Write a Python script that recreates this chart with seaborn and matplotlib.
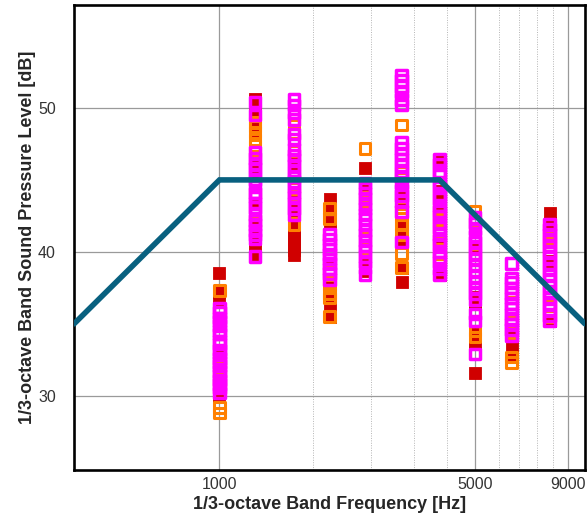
import numpy as np
import pandas as pd
import matplotlib
matplotlib.use("Agg")
import matplotlib.pyplot as plt
from matplotlib.ticker import FixedLocator, NullFormatter, FixedFormatter
import seaborn as sns

# ---------------- data ----------------
bands = [1000, 1250, 1600, 2000, 2500, 3150, 4000, 5000, 6300, 8000]

red_levels = [
    [38.5, 37.2, 36.6, 33.2, 30.0],
    [50.6, 50.3, 49.5, 48.6, 48.1, 46.6, 45.6, 43.4, 41.7, 40.9, 40.3, 39.7],
    [46.1, 43.5, 42.4, 41.7, 41.3, 40.9, 40.5, 40.1, 39.8],
    [43.7, 43.0, 42.1, 39.2, 37.9, 37.0, 36.3, 35.5],
    [45.8, 44.6, 39.1, 38.7],
    [44.5, 43.7, 42.1, 41.5, 40.7, 38.9, 37.9],
    [46.4, 44.2, 43.4, 40.8, 38.8, 38.4],
    [40.3, 36.9, 36.4, 34.3, 33.6, 31.6],
    [34.2, 33.4, 32.7],
    [42.7, 42.0, 39.4, 35.2],
]

orange_levels = [
    [37.3, 35.8, 32.3, 31.9, 31.4, 31.0, 30.6, 29.2, 28.8],
    [49.0, 48.7, 48.3, 47.8, 47.4, 47.0, 44.1, 42.1],
    [49.5, 48.9, 48.3, 47.0, 45.2, 44.4, 43.9, 42.7, 41.9],
    [43.0, 42.3, 41.2, 38.6, 37.7, 37.1, 36.8, 35.5],
    [47.2, 43.8, 43.5, 41.0, 40.3],
    [48.8, 45.5, 45.1, 43.1, 42.6, 41.9, 41.2, 39.9, 38.9],
    [42.9, 42.4, 41.5, 40.9, 39.9],
    [42.8, 42.1, 39.8, 34.5, 34.1],
    [37.2, 35.2, 34.4, 32.7, 32.3],
    [41.0, 40.7, 40.0, 36.3, 35.5],
]

magenta_levels = [
    [36.1, 35.8, 35.4, 35.2, 34.9, 34.5, 34.3, 33.8, 33.6, 33.2, 33.0, 32.6,
     32.3, 32.1, 31.7, 31.4, 31.1, 30.8, 30.6, 30.2],
    [50.4, 49.5, 46.9, 46.5, 46.1, 45.8, 45.3, 45.0, 44.6, 44.1, 43.8, 43.4,
     43.1, 42.6, 42.2, 41.9, 41.5, 41.2, 40.9, 39.7],
    [50.6, 50.2, 49.7, 49.2, 48.2, 47.8, 47.1, 46.7, 46.4, 46.0, 45.6, 45.2,
     44.9, 44.5, 44.1, 43.8, 43.4, 43.0, 42.6],
    [41.2, 40.9, 40.5, 40.2, 39.8, 39.5, 39.2, 38.8, 38.5, 38.1],
    [44.8, 44.4, 44.1, 43.7, 43.3, 43.0, 42.6, 42.3, 41.9, 41.5, 41.2, 40.8,
     40.4, 40.1, 39.7, 39.3, 38.9, 38.4],
    [52.3, 51.9, 51.5, 51.1, 50.6, 50.2, 47.6, 47.2, 46.8, 46.4, 46.0, 45.6,
     45.2, 44.8, 44.3, 43.9, 43.5, 42.8, 40.7],
    [46.4, 46.1, 45.6, 45.3, 44.8, 44.5, 44.0, 43.7, 43.2, 42.8, 42.5, 42.0,
     41.7, 41.2, 40.8, 40.5, 40.0, 39.6, 39.3, 38.8, 38.4],
    [42.4, 42.0, 41.6, 41.1, 40.7, 40.3, 39.9, 39.5, 39.1, 38.7, 38.3, 37.9,
     37.5, 37.1, 36.7, 35.7, 35.2, 32.9],
    [39.2, 38.2, 37.9, 37.5, 37.1, 36.8, 36.4, 36.1, 35.7, 35.3, 35.0, 34.6, 34.2],
    [41.9, 41.6, 41.2, 40.8, 40.4, 40.0, 39.6, 39.2, 38.8, 38.4, 38.0, 37.6,
     37.2, 36.8, 36.4, 36.0, 35.6, 35.2],
]

limit_freq = [400, 1000, 4000, 10000]
limit_level = [35, 45, 45, 35]

x_major_ticks = [1000, 5000, 9000]
x_minor_ticks = [1800, 2600, 3400, 4200, 5800, 6600, 7400, 8200]
y_major_ticks = [30, 40, 50]
y_minor_ticks = [26, 28, 32, 34, 36, 38, 42, 44, 46, 48, 52, 54, 56]


def to_frame(levels):
    rows = []
    for f, vals in zip(bands, levels):
        for v in vals:
            rows.append((f, v))
    return pd.DataFrame(rows, columns=["freq", "level"])


df_red = to_frame(red_levels)
df_orange = to_frame(orange_levels)
df_magenta = to_frame(magenta_levels)
df_line = pd.DataFrame({"freq": limit_freq, "level": limit_level})

# ---------------- plot ----------------
sns.set_style("white")
plt.rcParams["font.family"] = ["Liberation Sans", "DejaVu Sans"]

fig = plt.figure(figsize=(5.88, 5.16), dpi=100)
ax = fig.add_axes([74 / 588, 1 - 470 / 516, (585 - 74) / 588, (470 - 5) / 516])

ax.set_xscale("log")
ax.set_xlim(400, 10000)
ax.set_ylim(24.85, 57.15)

sns.scatterplot(data=df_red, x="freq", y="level", ax=ax, marker="s", s=68,
                color="#d00000", edgecolor="#d00000", linewidth=0.6, zorder=3)
sns.scatterplot(data=df_orange, x="freq", y="level", ax=ax, marker="s", s=58,
                facecolor="none", edgecolor="#ff8000", linewidth=2.2, zorder=4)
sns.scatterplot(data=df_magenta, x="freq", y="level", ax=ax, marker="s", s=58,
                facecolor="none", edgecolor="#ff00ff", linewidth=2.5, zorder=5)
sns.lineplot(data=df_line, x="freq", y="level", ax=ax, color="#08607f",
             linewidth=4.0, zorder=6, solid_joinstyle="miter")

# ticks
ax.xaxis.set_major_locator(FixedLocator(x_major_ticks))
ax.xaxis.set_major_formatter(FixedFormatter([str(t) for t in x_major_ticks]))
ax.xaxis.set_minor_locator(FixedLocator(x_minor_ticks))
ax.xaxis.set_minor_formatter(NullFormatter())
ax.yaxis.set_major_locator(FixedLocator(y_major_ticks))
ax.yaxis.set_minor_locator(FixedLocator(y_minor_ticks))

ax.tick_params(axis="both", which="major", direction="in", width=2.2,
               labelsize=11.5, labelcolor="#333333", color="black")
ax.tick_params(axis="x", which="major", length=7, pad=5, top=False)
ax.tick_params(axis="y", which="major", length=8, pad=13, right=False)
ax.tick_params(axis="x", which="minor", length=0, top=False)
ax.tick_params(axis="y", which="minor", direction="in", length=5, width=0.8,
               color="#555555", right=False)

# grid
ax.grid(True, which="major", axis="both", color="#9a9a9a", linewidth=0.9, zorder=0)
ax.grid(True, which="minor", axis="x", color="#b5b5b5", linewidth=0.7,
        linestyle=(0, (1, 1.5)), zorder=0)
ax.set_axisbelow(True)

for side in ["left", "bottom", "top", "right"]:
    ax.spines[side].set_visible(True)
    ax.spines[side].set_color("black")
    ax.spines[side].set_linewidth(1.9)

ax.set_xlabel("1/3-octave Band Frequency [Hz]", fontsize=13, fontweight="bold",
              labelpad=1)
ax.set_ylabel("1/3-octave Band Sound Pressure Level [dB]", fontsize=13,
              fontweight="bold", labelpad=6)
ax.xaxis.set_label_coords(0.5, -0.055)
ax.yaxis.set_label_coords(-0.074, 0.5)

fig.savefig("out.png", dpi=100)
